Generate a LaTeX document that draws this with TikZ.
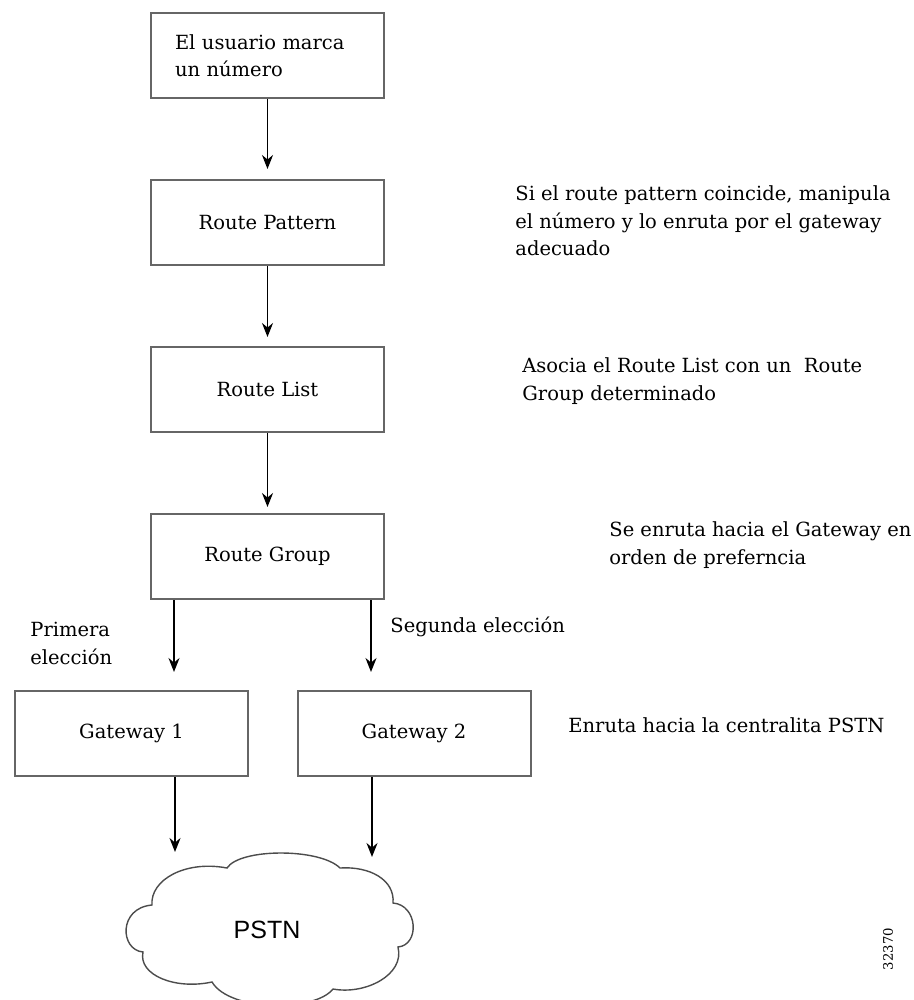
\documentclass[tikz,border=0pt]{standalone}
\usepackage{fontspec}
\setmainfont{DejaVu Serif}
\newfontfamily\cloudfont{Liberation Sans}
\usetikzlibrary{positioning,arrows.meta}

\newcommand{\diagfont}{\fontsize{9.75pt}{13.75pt}\selectfont}

\begin{document}
\begin{tikzpicture}[
    x=0.5pt, y=-0.5pt,
    node distance=40pt,
    box/.style={rectangle, draw=black!60, line width=1pt, minimum width=116.5pt, minimum height=42.5pt, font=\diagfont, align=center},
    arrow/.style={-{Stealth[length=7pt,width=5.5pt]}, line width=0.8pt, black},
    note/.style={font=\diagfont, align=left, anchor=base west, inner sep=0pt},
    cloudline/.style={draw=black!70, line width=0.7pt},
]
\useasboundingbox (0,0) rectangle (914,1000);

% Main chain
\node[box, align=left, text width=92.5pt, inner xsep=12pt] (dial) at (267.5,55.5) {El usuario marca\\un número};
\node[box, below=of dial] (pattern) {Route Pattern};
\node[box, below=of pattern] (list) {Route List};
\node[box, below=of list] (group) {Route Group};

% Gateways
\node[box] (gw1) at (131.5,733.5) {Gateway 1};
\node[box] (gw2) at (414,733.5) {Gateway 2};

% PSTN cloud
\draw[cloudline] (152,905) .. controls (150,880) and (185,860) .. (227,868)
    .. controls (240,848) and (320,848) .. (340,868)
    .. controls (370,866) and (395,880) .. (393,903)
    .. controls (418,905) and (420,945) .. (398,947)
    .. controls (405,975) and (365,995) .. (333,989)
    .. controls (315,1012) and (230,1012) .. (212,982)
    .. controls (175,990) and (138,975) .. (143,952)
    .. controls (120,950) and (118,908) .. cycle;
\node[font=\cloudfont\fontsize{12.5pt}{14pt}\selectfont] (pstn) at (267,930) {PSTN};

% Arrows
\draw[arrow, shorten >=5pt] (dial) -- (pattern);
\draw[arrow, shorten >=4.5pt] (pattern) -- (list);
\draw[arrow, shorten >=3pt] (list) -- (group);

\coordinate (first) at ([xshift=12pt]group.south west);
\coordinate (second) at ([xshift=-7pt]group.south east);
\draw[arrow, shorten >=9pt] (first) -- (first |- gw1.north);
\draw[arrow, shorten >=9pt] (second) -- (second |- gw2.north);

\coordinate (in1) at (175,852);
\coordinate (in2) at (372,857);
\draw[arrow] (gw1.south -| in1) -- (in1);
\draw[arrow] (gw2.south -| in2) -- (in2);

% Labels (base = last line)
\node[note] (firstlabel) at (30,664) {Primera\\elección};
\node[note] (secondlabel) at (390,632) {Segunda elección};

% Notes on the right
\node[note] (patternnote) at (515,256) {Si el route pattern coincide, manipula\\el número y lo enruta por el gateway\\adecuado};
\node[note] (listnote) at (522,400) {Asocia el Route List con un\ \ Route\\Group determinado};
\node[note] (groupnote) at (609,564) {Se enruta hacia el Gateway en\\orden de preferncia};
\node[note] (gwnote) at (568,732) {Enruta hacia la centralita PSTN};

\node[font=\fontsize{6.6pt}{8pt}\selectfont, rotate=90] (figid) at (888,949) {32370};

\end{tikzpicture}
\end{document}
